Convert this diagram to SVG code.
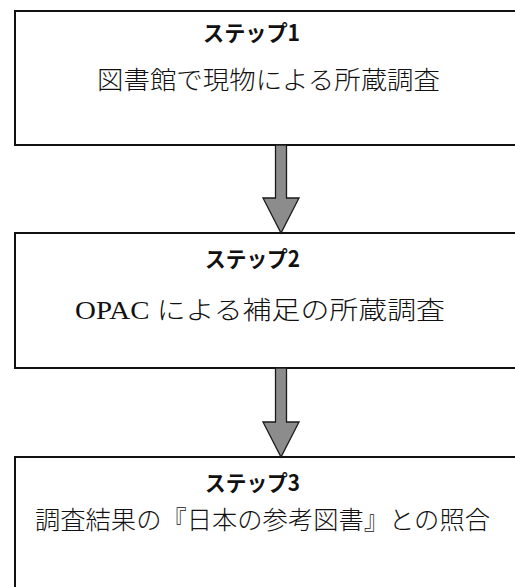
<svg xmlns="http://www.w3.org/2000/svg" width="515" height="587" viewBox="0 0 515 587">
<style>
.box{fill:#fff;stroke:#111;stroke-width:2}
.h{font-family:"Noto Sans CJK JP","Noto Sans",sans-serif;font-weight:bold;font-size:22px;fill:#111}
.t{font-family:"Liberation Serif","Noto Sans CJK JP",serif;font-weight:300;font-size:25px;fill:#111}
.arr{fill:#8c8c8c;stroke:#1a1a1a;stroke-width:1.3;stroke-linejoin:miter}
</style>
<rect width="515" height="587" fill="#fff"/>
<g id="step1">
<rect class="box" x="15" y="11" width="520" height="134"/>
<text class="h" x="203" y="41" textLength="97" lengthAdjust="spacingAndGlyphs">ステップ1</text>
<text class="t" x="97" y="89" textLength="343" lengthAdjust="spacingAndGlyphs">図書館で現物による所蔵調査</text>
</g>
<g id="step2">
<rect class="box" x="15" y="233" width="520" height="135"/>
<text class="h" x="205" y="267" textLength="95" lengthAdjust="spacingAndGlyphs">ステップ2</text>
<text class="t" x="75" y="319" textLength="370" lengthAdjust="spacingAndGlyphs">OPAC による補足の所蔵調査</text>
</g>
<g id="step3">
<rect class="box" x="15" y="457" width="520" height="150"/>
<text class="h" x="205" y="491" textLength="95" lengthAdjust="spacingAndGlyphs">ステップ3</text>
<text class="t" x="35" y="529" textLength="455" lengthAdjust="spacingAndGlyphs">調査結果の『日本の参考図書』との照合</text>
</g>
<g id="connectors">
<path class="arr" d="M275.5,145 L286.5,145 L286.5,198 L299,198 L281,233 L263,198 L275.5,198 Z"/>
<path class="arr" d="M275.5,368 L286.5,368 L286.5,422 L299,422 L281,457 L263,422 L275.5,422 Z"/>
</g>
</svg>
